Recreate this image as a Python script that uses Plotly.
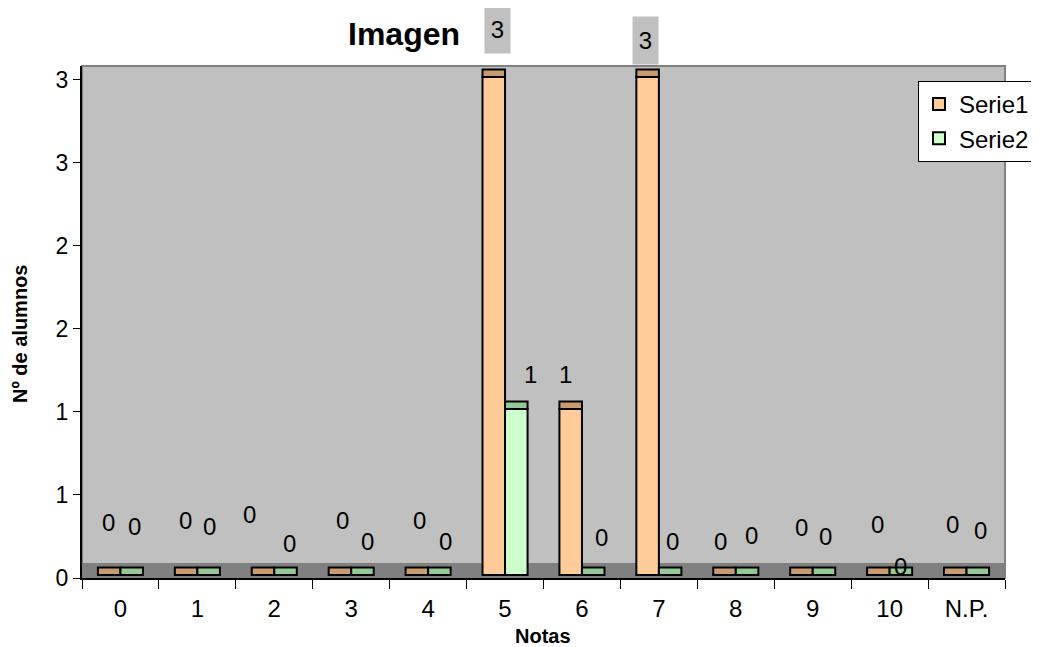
import plotly.graph_objects as go

# ---------------- data ----------------
categories = ["0", "1", "2", "3", "4", "5", "6", "7", "8", "9", "10", "N.P."]
serie1 = [0, 0, 0, 0, 0, 3, 1, 3, 0, 0, 0, 0]
serie2 = [0, 0, 0, 0, 0, 1, 0, 0, 0, 0, 0, 0]
ytick_vals = [0, 0.5, 1, 1.5, 2, 2.5, 3]
ytick_text = ["0", "1", "1", "2", "2", "3", "3"]

# ---------------- styling ----------------
FONT = "Liberation Sans, Arial, sans-serif"
OFF = 8  # page body margin of the browser
W, H = 1031, 639
PL, PR, PT, PB = 82, 1005, 66, 578   # plot area in window pixels
ML, MR, MT, MB = PL - OFF, W - (PR - OFF), PT - OFF, H - (PB - OFF)
YMAX = 3.084
DEPTH = 0.018   # pseudo-3D floor offset
CAP = 0.045     # pseudo-3D top face thickness
FLOOR = 0.09

c1_front, c1_top = "#FFCC99", "#C89B73"
c2_front, c2_top = "#CCFFCC", "#96C896"

# label pixel shifts (x, y) relative to the bar top, per category
s1_label_shift = [(-12, 53), (-12, 55), (-25, 61), (-9, 55), (-9, 55), (-8, 47),
                  (-16, 34), (-13, 36), (-15, 34), (-11, 48), (-12, 51), (-14, 51)]
s2_label_shift = [(14, 49), (12, 49), (15, 32), (16, 34), (17, 34), (25, 34),
                  (20, 38), (14, 34), (16, 40), (13, 39), (11, 9), (14, 45)]

outline = dict(color="black", width=2)

fig = go.Figure()
fig.add_trace(go.Bar(x=categories, y=serie1, base=[DEPTH] * len(serie1),
                     offsetgroup="s1", name="Serie1",
                     marker=dict(color=c1_front, line=outline)))
fig.add_trace(go.Bar(x=categories, y=serie2, base=[DEPTH] * len(serie2),
                     offsetgroup="s2", name="Serie2",
                     marker=dict(color=c2_front, line=outline)))
fig.add_trace(go.Bar(x=categories, y=[CAP] * len(serie1),
                     base=[v + DEPTH for v in serie1],
                     offsetgroup="s1", showlegend=False, hoverinfo="skip",
                     marker=dict(color=c1_top, line=outline)))
fig.add_trace(go.Bar(x=categories, y=[CAP] * len(serie2),
                     base=[v + DEPTH for v in serie2],
                     offsetgroup="s2", showlegend=False, hoverinfo="skip",
                     marker=dict(color=c2_top, line=outline)))

plot_h = PB - PT
px_per_unit = plot_h / YMAX

annotations = []
for series, shifts in ((serie1, s1_label_shift), (serie2, s2_label_shift)):
    for cat, v, (xs, ys) in zip(categories, series, shifts):
        top_px = PB - (v + DEPTH) * px_per_unit
        outside = (top_px - ys) < PT
        a = dict(x=cat, y=v + DEPTH, xref="x", yref="y", text=f"{v:.0f}",
                 showarrow=False, xshift=xs, yshift=ys,
                 xanchor="center", yanchor="middle",
                 font=dict(family=FONT, size=24, color="black"))
        if outside:
            a.update(bgcolor="#C0C0C0", width=23, height=45, valign="middle")
        annotations.append(a)

# axis titles
annotations.append(dict(x=(20 - PL) / (PR - PL), y=(PB - 334) / plot_h,
                        xref="paper", yref="paper", xanchor="center", yanchor="middle",
                        text="<b>Nº de alumnos</b>", textangle=-90, showarrow=False,
                        font=dict(family=FONT, size=20, color="black")))
annotations.append(dict(x=(543 - PL) / (PR - PL), y=(PB - 636) / plot_h,
                        xref="paper", yref="paper", xanchor="center", yanchor="middle",
                        text="<b>Notas</b>", showarrow=False,
                        font=dict(family=FONT, size=20, color="black")))

shapes = [
    dict(type="rect", xref="paper", yref="y", x0=0, x1=1, y0=0, y1=FLOOR,
         fillcolor="#808080", line=dict(width=0), layer="below"),
    dict(type="rect", xref="paper", yref="paper", x0=0, x1=1, y0=0, y1=1,
         line=dict(color="#808080", width=2), layer="below"),
]

fig.update_layout(
    width=W, height=H,
    margin=dict(l=ML, r=MR, t=MT, b=MB, autoexpand=False),
    paper_bgcolor="white", plot_bgcolor="#C0C0C0",
    barmode="group", bargap=0.414, bargroupgap=0,
    font=dict(family=FONT, color="black"),
    title=dict(text="<b>Imagen</b>", x=(404 - OFF) / W, xanchor="center",
               y=1 - (34 - OFF) / H, yanchor="middle",
               xref="container", yref="container",
               font=dict(family=FONT, size=32, color="black")),
    legend=dict(x=(918 - PL) / (PR - PL), y=(PB - 81) / plot_h,
                xanchor="left", yanchor="top",
                bgcolor="white", bordercolor="black", borderwidth=1,
                font=dict(family=FONT, size=24, color="black"),
                traceorder="normal"),
    annotations=annotations,
    shapes=shapes,
    showlegend=True,
)
fig.update_xaxes(type="category", showgrid=False, zeroline=False,
                 showline=True, linecolor="black", linewidth=2,
                 ticks="outside", ticklen=9, tickcolor="black", tickwidth=1,
                 tickson="boundaries", ticklabelstandoff=8,
                 tickfont=dict(family=FONT, size=24, color="black"))
fig.update_yaxes(range=[0, YMAX], showgrid=False, zeroline=False,
                 showline=True, linecolor="black", linewidth=2,
                 ticks="outside", ticklen=7, tickcolor="black", tickwidth=1,
                 tickvals=ytick_vals, ticktext=ytick_text,
                 tickfont=dict(family=FONT, size=23, color="black"))

fig.write_html("out.html")
